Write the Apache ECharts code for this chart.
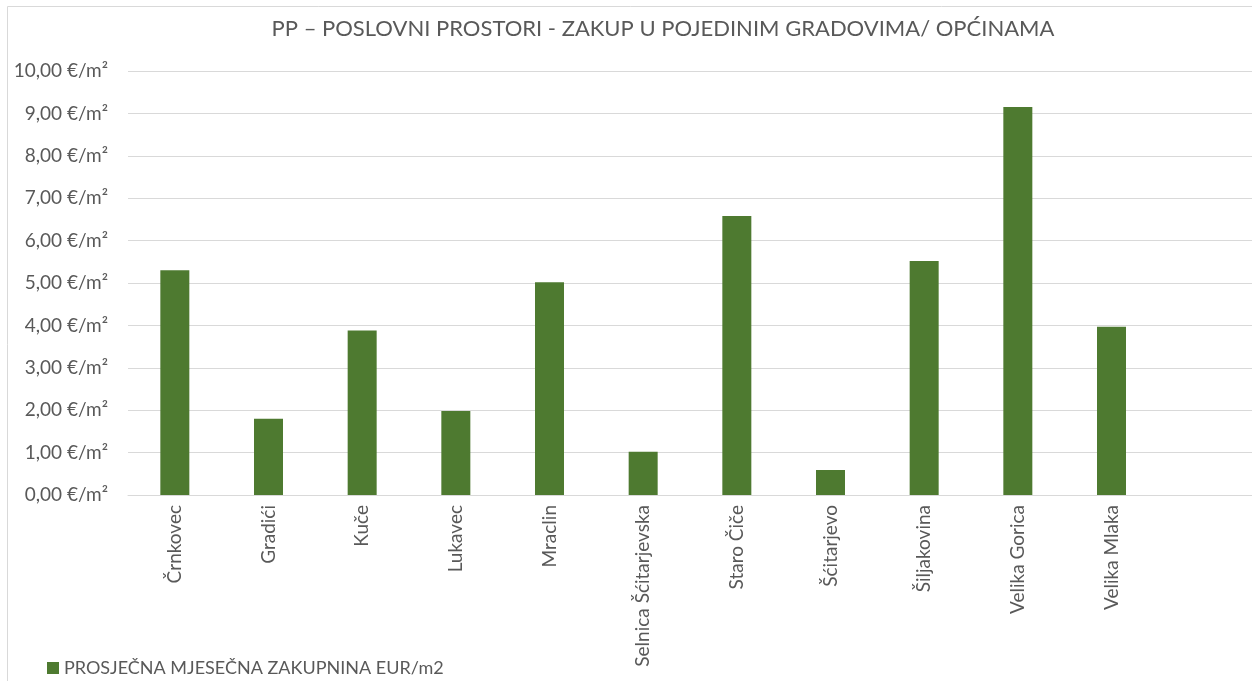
<!DOCTYPE html>
<html>
<head>
<meta charset="utf-8">
<script src="https://cdn.jsdelivr.net/npm/echarts@6/dist/echarts.min.js"></script>
<style>
  html, body { margin: 0; padding: 0; background: #fff; }
  #chart { width: 1252px; height: 681px; }
</style>
</head>
<body>
<div id="chart"></div>
<script>
// gradovi / općine (zadnja kategorija prazna kao u izvorniku)
const categories = ['Črnkovec', 'Gradići', 'Kuče', 'Lukavec', 'Mraclin', 'Selnica Šćitarjevska',
  'Staro Čiče', 'Šćitarjevo', 'Šiljakovina', 'Velika Gorica', 'Velika Mlaka', '']
const zakupnina = [5.30, 1.80, 3.88, 1.98, 5.02, 1.02, 6.58, 0.59, 5.52, 9.15, 3.97, null]
const seriesName = 'PROSJEČNA MJESEČNA ZAKUPNINA EUR/m2'

const font = 'Lato, "Open Sans", sans-serif'
const textColor = '#595959'

let myChart = echarts.init(document.getElementById('chart'))
myChart.setOption({
  animation: false,
  textStyle: { fontFamily: font },
  title: {
    text: 'PP – POSLOVNI PROSTORI - ZAKUP U POJEDINIM GRADOVIMA/ OPĆINAMA',
    left: 658,
    top: 13,
    textAlign: 'center',
    textStyle: { fontFamily: font, fontSize: 22, fontWeight: 'normal', color: textColor }
  },
  graphic: [
    {
      type: 'rect',
      shape: { x: 7.5, y: 6.5, width: 1260, height: 700 },
      style: { fill: 'none', stroke: '#d9d9d9', lineWidth: 1 },
      silent: true
    }
  ],
  legend: {
    left: 42,
    top: 654,
    itemWidth: 12,
    itemHeight: 12,
    icon: 'rect',
    itemGap: 6,
    textStyle: { fontFamily: font, fontSize: 18, color: textColor },
    data: [seriesName]
  },
  grid: {
    left: 128,
    right: -4,
    top: 71,
    bottom: 186
  },
  xAxis: {
    type: 'category',
    data: categories,
    axisLine: { lineStyle: { color: '#d9d9d9', width: 1 } },
    axisTick: { show: false },
    axisLabel: {
      rotate: 90,
      interval: 0,
      margin: 10,
      fontSize: 19,
      color: textColor,
      fontFamily: font
    }
  },
  yAxis: {
    type: 'value',
    min: 0,
    max: 10,
    interval: 1,
    axisLine: { show: false },
    axisTick: { show: false },
    splitLine: { lineStyle: { color: '#d9d9d9', width: 1 } },
    axisLabel: {
      margin: 20,
      fontSize: 19,
      color: textColor,
      fontFamily: font,
      formatter: v => v.toFixed(2).replace('.', ',') + ' €/m²'
    }
  },
  series: [
    {
      name: seriesName,
      type: 'bar',
      data: zakupnina,
      barWidth: 29,
      itemStyle: { color: '#4e7a30' }
    }
  ]
})
</script>
</body>
</html>
